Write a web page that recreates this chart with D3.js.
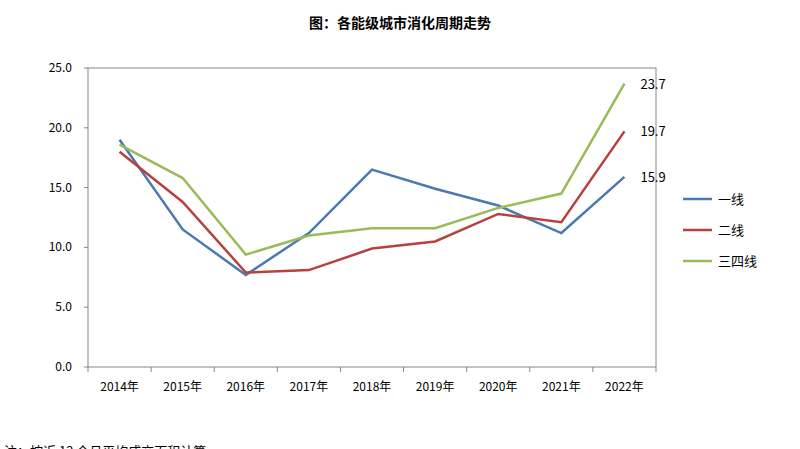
<!DOCTYPE html><html><head><meta charset="utf-8"><script src="https://cdn.jsdelivr.net/npm/d3@7"></script>
<style>body{margin:0;background:#fff}</style></head><body><svg id="c" width="800" height="449"></svg>
<script>
const categories=["2014年","2015年","2016年","2017年","2018年","2019年","2020年","2021年","2022年"];
const tier1=[19.0,11.5,7.7,11.2,16.5,14.9,13.5,11.2,15.9];
const tier2=[18.0,13.8,7.9,8.1,9.9,10.5,12.8,12.1,19.7];
const tier34=[18.6,15.8,9.4,11.0,11.6,11.6,13.3,14.5,23.7];
const seriesNames=["一线","二线","三四线"];
const colors=["#4a7ab0","#b8413e","#9bbb59"];
const yTicks=[0,5,10,15,20,25];
const svg=d3.select("#c"),font="'Noto Sans CJK SC','Noto Sans',sans-serif";
const x=d3.scaleBand().domain(categories).range([88,656]);
const y=d3.scaleLinear().domain([0,25]).range([367,68]);
svg.append("text").attr("x",400).attr("y",28).attr("text-anchor","middle").attr("font-family",font).attr("font-weight","bold").attr("font-size",14).text("图：各能级城市消化周期走势");
svg.append("rect").attr("x",88).attr("y",68).attr("width",568).attr("height",299).attr("fill","none").attr("stroke","#888");
yTicks.forEach(t=>{svg.append("text").attr("x",72).attr("y",y(t)+4).attr("text-anchor","end").attr("font-family",font).attr("font-size",12).text(t.toFixed(1));
svg.append("line").attr("x1",84).attr("x2",88).attr("y1",y(t)).attr("y2",y(t)).attr("stroke","#888");});
categories.forEach((c,i)=>{svg.append("text").attr("x",x(c)+x.bandwidth()/2).attr("y",391).attr("text-anchor","middle").attr("font-family",font).attr("font-size",12).text(c);
svg.append("line").attr("x1",x(c)).attr("x2",x(c)).attr("y1",367).attr("y2",372).attr("stroke","#888");});
svg.append("line").attr("x1",656).attr("x2",656).attr("y1",367).attr("y2",372).attr("stroke","#888");
const line=d3.line().x((d,i)=>x(categories[i])+x.bandwidth()/2).y(d=>y(d));
[tier1,tier2,tier34].forEach((s,k)=>{
svg.append("path").attr("d",line(s)).attr("fill","none").attr("stroke",colors[k]).attr("stroke-width",2.5);
svg.append("text").attr("x",x(categories[8])+x.bandwidth()/2+16).attr("y",y(s[8])+5).attr("font-family",font).attr("font-size",13).text(s[8].toFixed(1));
const ly=199+k*31;
svg.append("line").attr("x1",683).attr("x2",712).attr("y1",ly).attr("y2",ly).attr("stroke",colors[k]).attr("stroke-width",2.5);
svg.append("text").attr("x",718).attr("y",ly+5).attr("font-family",font).attr("font-size",13).text(seriesNames[k]);});
svg.append("text").attr("x",4).attr("y",456).attr("font-family",font).attr("font-size",13).text("注：按近 12 个月平均成交面积计算");
</script></body></html>
